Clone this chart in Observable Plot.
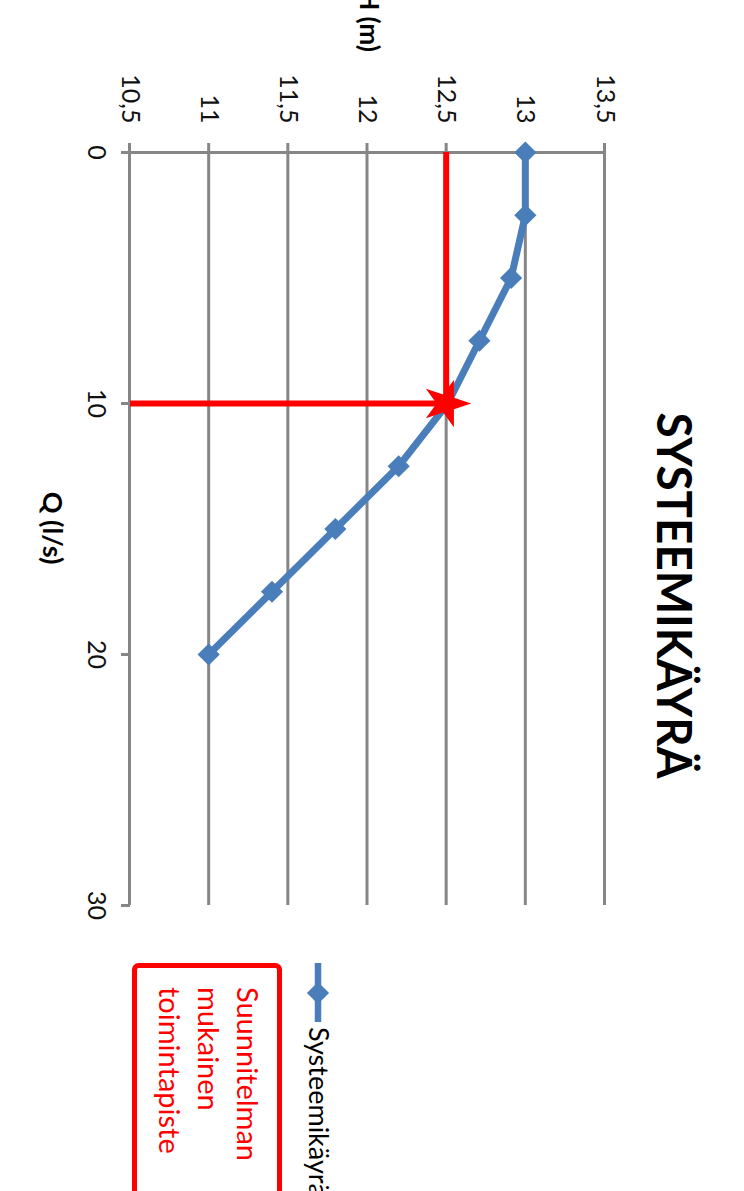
<!DOCTYPE html>
<html><head><meta charset="utf-8">
<script src="https://cdn.jsdelivr.net/npm/d3@7"></script>
<script src="https://cdn.jsdelivr.net/npm/@observablehq/plot@0.6"></script>
<style>
html,body{margin:0;padding:0;width:744px;height:1191px;overflow:hidden;background:#fff;}
#rot{position:absolute;left:0;top:0;width:1191px;height:744px;transform-origin:0 0;transform:translate(744px,0) rotate(90deg);}
</style></head><body><div id="rot"></div>
<script>
// ---- data ----
const title = "SYSTEEMIKÄYRÄ";
const xLabel = "Q (l/s)";
const yLabel = "H (m)";
const seriesName = "Systeemikäyrä";
const opLabel = ["Suunnitelman", "mukainen", "toimintapiste"];
const Q = [0, 2.5, 5, 7.5, 10, 12.5, 15, 17.5, 20];
const H = [13, 13, 12.91, 12.71, 12.51, 12.2, 11.8, 11.4, 11.0];
const opQ = [10];
const opH = [12.5];
const xTicks = [0, 10, 20, 30];
const yTicks = [10.5, 11, 11.5, 12, 12.5, 13, 13.5];

const data = Q.map((q, i) => ({Q: q, H: H[i]}));
const op = opQ.map((q, i) => ({Q: q, H: opH[i]}));
const fmt = d => String(d).replace(".", ",");
const W = 1191, HT = 744;
const grid = "#868686", blue = "#4a7ebb", red = "#ff0000";
const font = "Lato, 'Open Sans', sans-serif";

const svg = Plot.plot({
  width: W, height: HT,
  marginLeft: 152, marginRight: 286, marginTop: 139, marginBottom: 130,
  style: {fontFamily: font, background: "#fff"},
  x: {domain: [0, 30], label: null},
  y: {domain: [10.5, 13.5], label: null},
  marks: [
    Plot.ruleY(yTicks, {x1: 0, x2: 30, stroke: grid, strokeWidth: 3}),
    Plot.ruleX([0], {y1: 10.5, y2: 13.5, stroke: grid, strokeWidth: 3}),
    Plot.axisY(yTicks, {tickSize: 9, tickPadding: 20, stroke: grid, strokeWidth: 3, tickFormat: fmt, fontSize: 25, fill: "#111", label: null}),
    Plot.axisX(xTicks, {tickSize: 9, tickPadding: 15, stroke: grid, strokeWidth: 3, fontSize: 25, fill: "#111", label: null}),
    Plot.ruleY(op, {y: "H", x1: 0, x2: "Q", stroke: red, strokeWidth: 6}),
    Plot.ruleX(op, {x: "Q", y1: 10.5, y2: "H", stroke: red, strokeWidth: 6}),
    Plot.line(data, {x: "Q", y: "H", stroke: blue, strokeWidth: 7}),
    Plot.dot(data, {x: "Q", y: "H", symbol: "diamond2", r: 10, fill: blue}),
    Plot.dot(op, {x: "Q", y: "H", symbol: "star", r: 15, fill: red})
  ]
});

const s = d3.select(svg);
// title
s.append("text").attr("x", W / 2).attr("y", 87).attr("text-anchor", "middle")
  .attr("textLength", 366).attr("lengthAdjust", "spacingAndGlyphs")
  .attr("font-family", font).attr("font-weight", "bold").attr("font-size", 48).attr("fill", "#000").text(title);
// axis titles
s.append("text").attr("x", 52).attr("y", 384).attr("text-anchor", "end")
  .attr("font-family", font).attr("font-weight", "bold").attr("font-size", 26).attr("fill", "#000").text(yLabel);
s.append("text").attr("x", 528).attr("y", 701).attr("text-anchor", "middle")
  .attr("font-family", font).attr("font-weight", "bold").attr("font-size", 27).attr("fill", "#000").text(xLabel);
// legend: series
s.append("line").attr("x1", 963).attr("x2", 1022).attr("y1", 426).attr("y2", 426)
  .attr("stroke", blue).attr("stroke-width", 6.5);
s.append("path").attr("d", d3.symbol(d3.symbolDiamond2, Math.PI * 100)())
  .attr("transform", "translate(993,426)").attr("fill", blue);
s.append("text").attr("x", 1027).attr("y", 435).attr("text-anchor", "start")
  .attr("font-family", font).attr("font-size", 27).attr("fill", "#000").text(seriesName);
// legend: operating point box
s.append("rect").attr("x", 965.5).attr("y", 464.5).attr("width", 400).attr("height", 145).attr("rx", 4)
  .attr("fill", "#fff").attr("stroke", red).attr("stroke-width", 5);
const t = s.append("text").attr("text-anchor", "start").attr("font-family", font).attr("font-size", 29).attr("fill", red);
opLabel.forEach((l, i) => t.append("tspan").attr("x", 987).attr("y", 507 + i * 39).text(l));

document.getElementById("rot").appendChild(svg);
</script>
</body></html>
